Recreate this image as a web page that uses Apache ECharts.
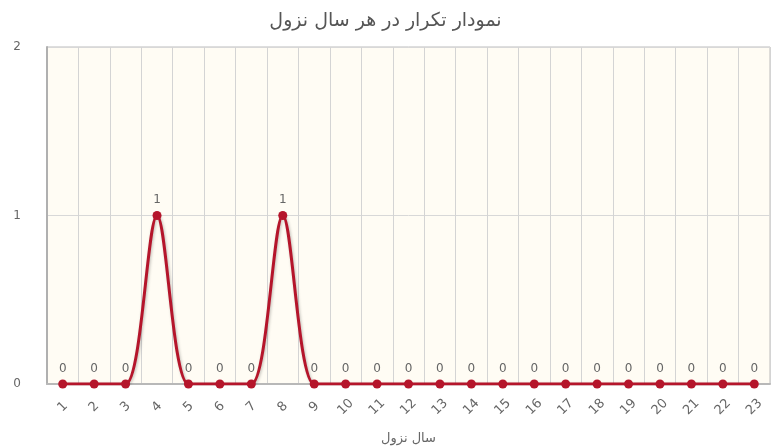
<!DOCTYPE html>
<html>
<head>
<meta charset="utf-8">
<script src="https://cdn.jsdelivr.net/npm/echarts@6/dist/echarts.min.js"></script>
<style>
  html, body { margin: 0; padding: 0; background: #fff; }
  #chart { width: 771px; height: 446px; }
</style>
</head>
<body>
<div id="chart"></div>
<script>
// داده‌ها
const years = ['1','2','3','4','5','6','7','8','9','10','11','12','13','14','15','16','17','18','19','20','21','22','23']
const counts = [0,0,0,1,0,0,0,1,0,0,0,0,0,0,0,0,0,0,0,0,0,0,0]
const titleText = 'نمودار تکرار در هر سال نزول'
const xAxisName = 'سال نزول'

const chart = echarts.init(document.getElementById('chart'))

const option = {
  animation: false,
  textStyle: { fontFamily: 'DejaVu Sans, Noto Sans' },
  title: {
    text: titleText,
    left: 'center',
    top: 7,
    textStyle: { color: '#555', fontSize: 19, fontWeight: 'normal' }
  },
  grid: {
    left: 47, right: 1, top: 47, bottom: 62,
    outerBoundsMode: 'none',
    containLabel: false,
    show: true,
    backgroundColor: '#FFFCF4',
    borderColor: '#bdbdbd',
    borderWidth: 1
  },
  xAxis: {
    type: 'category',
    data: years,
    boundaryGap: true,
    name: xAxisName,
    nameLocation: 'middle',
    nameGap: 48,
    nameTextStyle: { color: '#666', fontSize: 13 },
    axisLine: { lineStyle: { color: '#b8b8b8', width: 2 } },
    axisTick: { show: false },
    axisLabel: {
      rotate: 45, align: 'center', verticalAlign: 'middle',
      color: '#666', fontSize: 13, margin: 23, interval: 0
    },
    splitLine: { show: true, interval: 0, lineStyle: { color: '#d4d4d4', width: 1 } }
  },
  yAxis: {
    type: 'value',
    min: 0, max: 2, interval: 1,
    axisLine: { show: true, lineStyle: { color: '#b0b0b0', width: 2 } },
    axisTick: { show: false },
    axisLabel: { color: '#666', fontSize: 12, margin: 26 },
    splitLine: { lineStyle: { color: '#d8d8d8', width: 1 } }
  },
  series: [
    {
      type: 'line',
      data: counts,
      smooth: 0.3,
      symbol: 'circle',
      symbolSize: 9,
      itemStyle: { color: '#B5152B' },
      lineStyle: {
        color: '#B5152B',
        width: 3,
        shadowColor: 'rgba(0,0,0,0.25)',
        shadowBlur: 3,
        shadowOffsetX: 1,
        shadowOffsetY: 1
      },
      label: { show: true, position: 'top', distance: 5, color: '#666', fontSize: 12 }
    }
  ]
}

chart.setOption(option)
</script>
</body>
</html>
